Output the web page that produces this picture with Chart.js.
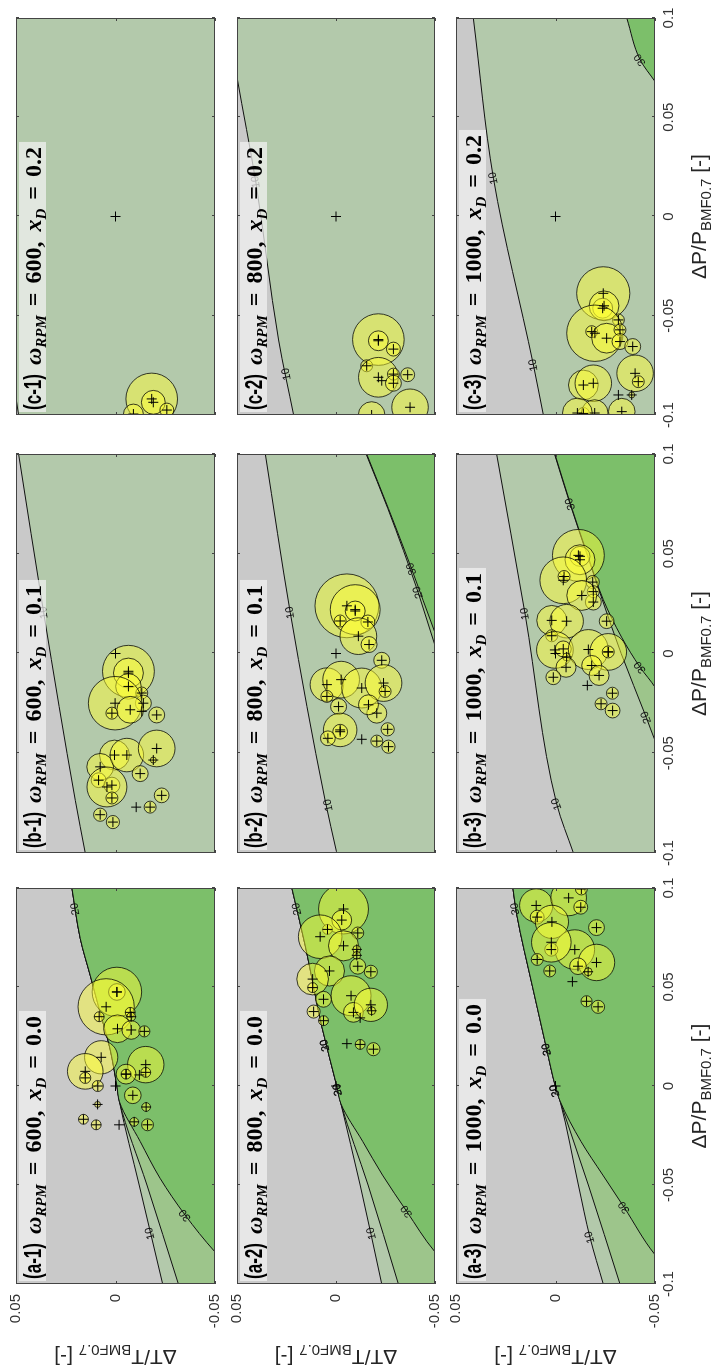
<!DOCTYPE html>
<html>
<head>
<meta charset="utf-8">
<script src="https://cdn.jsdelivr.net/npm/chart.js@4.4.1/dist/chart.umd.min.js"></script>
<style>
  html, body { margin: 0; padding: 0; background: #fff; width: 716px; height: 1370px; overflow: hidden; }
  /* the 3x3 grid is laid out landscape and turned a quarter turn counter-clockwise */
  #fig { position: absolute; left: 0; top: 0; width: 1370px; height: 716px;
         transform-origin: 0 0; transform: translate(0, 1370px) rotate(-90deg); background: #fff; }
  #fig canvas { position: absolute; }
</style>
</head>
<body>
<div id="fig"></div>
<script>
// ---------- axes ----------
const dpTicks = [-0.1, -0.05, 0, 0.05, 0.1];
const dpTickLabels = ['-0.1', '-0.05', '0', '0.05', '0.1'];
const dtTicks = [-0.05, 0, 0.05];
const dtTickLabels = ['-0.05', '0', '0.05'];
const rpmRows = [600, 800, 1000];
const xdCols = ['0.0', '0.1', '0.2'];
const baseline = [0, 0];

// ---------- operating points: [dP/P, dT/T, spread radius] ----------
const a1Pts = [
  [0.0475,-0.0007,0.0125],[0.0475,-0.0007,0.0042],[0.040,0.0047,0.0142],[0.035,0.0082,0.0025],
  [0.0372,-0.0074,0.0025],[0.035,-0.0079,0.0022],[0.0289,-0.001,0.007],[0.0283,-0.0079,0.0047],
  [0.0276,-0.0145,0.0028],[0.0145,0.0072,0.0084],[0.0074,0.0152,0.009],[0.0041,0.0152,0.0028],
  [0.0,0.0089,0.0028],[0.0108,-0.0152,0.0092],[0.006,-0.0053,0.005],[0.006,-0.0053,0.0025],
  [0.0069,-0.0152,0.0025],[0.0056,-0.012,0],[-0.0047,-0.0087,0.0042],[-0.0093,0.009,0.0015],
  [-0.0106,-0.0154,0.0022],[-0.0168,0.0161,0.0025],[-0.0196,0.0097,0.0025],[-0.0196,-0.0018,0],
  [-0.0181,-0.0094,0.0022],[-0.0196,-0.0161,0.003]
];
const a2Pts = [
  [0.0894,-0.0038,0.0126],[0.0838,-0.0029,0.005],[0.0791,0.0043,0.0025],[0.0773,-0.011,0.003],
  [0.0754,0.008,0.011],[0.0708,-0.0038,0.0076],[0.069,-0.0105,0.002],[0.066,-0.0105,0.002],
  [0.0605,-0.011,0.004],[0.0577,-0.0176,0.0033],[0.0581,0.0033,0.0076],[0.054,0.0118,0.008],
  [0.0497,0.0118,0.0025],[0.0438,0.0063,0.004],[0.0456,-0.0076,0.0101],[0.0376,0.0113,0.0033],
  [0.033,0.0063,0.0025],[0.0372,-0.0088,0.005],[0.041,-0.0176,0.0084],[0.038,-0.018,0.002],
  [0.0344,-0.0122,0],[0.0214,-0.0055,0],[0.021,-0.0122,0.0025],[0.0186,-0.0189,0.0033]
];
const a3Pts = [
  [0.0912,0.0097,0.0084],[0.095,-0.0066,0.009],[0.0995,-0.013,0.003],[0.0903,-0.0127,0.0035],
  [0.0853,0.0092,0.0035],[0.0829,0.0018,0.0084],[0.08,-0.0206,0.004],[0.0689,-0.0097,0.01],
  [0.0689,0.0021,0.0033],[0.0726,0.0021,0.01],[0.0639,0.0092,0.003],[0.0581,0.0029,0.003],
  [0.0624,-0.0206,0.0092],[0.0605,-0.0113,0.0042],[0.0577,-0.0164,0.002],[0.0527,-0.0085,0],
  [0.0428,-0.0156,0.0028],[0.04,-0.0214,0.0033]
];
const b1Pts = [
  [-0.0089,-0.0065,0.013],[-0.0098,-0.0065,0.0075],[-0.0165,-0.0065,0.0064],[-0.0198,-0.0132,0.003],
  [-0.0249,-0.014,0.004],[-0.0249,0.0002,0.0134],[-0.0299,0.0018,0.003],[-0.0282,-0.0074,0.0067],
  [-0.029,-0.0132,0],[-0.0308,-0.0207,0.004],[-0.0509,0.0005,0.0075],[-0.0568,0.0077,0.0067],
  [-0.0509,-0.0057,0.0084],[-0.0476,-0.0207,0.0092],[-0.0534,-0.019,0.0015],[-0.0602,-0.0124,0.004],
  [-0.0635,0.0085,0.0037],[-0.066,0.0018,0.004],[-0.0669,0.0043,0.01],[-0.0711,-0.0232,0.0037],
  [-0.0724,0.0018,0.003],[-0.0808,0.0077,0.0033],[-0.0845,0.0013,0.0033],[-0.077,-0.0104,0],
  [-0.077,-0.0174,0.003]
];
const b2Pts = [
  [0.0239,-0.0055,0.016],[0.022,-0.0097,0.0125],[0.0213,-0.0097,0.005],[0.0163,-0.0021,0.003],
  [0.0158,-0.0161,0.0035],[0.0087,-0.0113,0.0092],[0.0045,-0.0167,0.004],[-0.0034,-0.0231,0.004],
  [-0.0156,0.0046,0.0084],[-0.0131,-0.0026,0.0092],[-0.0215,0.0046,0.003],[-0.0173,-0.013,0.01],
  [-0.0148,-0.024,0.0092],[-0.019,-0.0248,0.003],[-0.0266,-0.0013,0.004],[-0.0299,-0.0206,0.005],
  [-0.0257,-0.0164,0.005],[-0.0383,-0.0021,0.0084],[-0.0392,-0.0021,0.0037],[-0.0425,0.0041,0.0037],
  [-0.043,-0.013,0],[-0.0439,-0.0206,0.003],[-0.038,-0.0261,0.0033],[-0.0467,-0.0265,0.0033]
];
const b3Pts = [
  [0.0492,-0.0115,0.013],[0.0487,-0.0123,0.005],[0.047,-0.0123,0.0075],[0.0367,-0.0039,0.0117],
  [0.0386,-0.0043,0.003],[0.0358,-0.0187,0.0033],[0.031,-0.019,0.003],[0.0258,-0.019,0.004],
  [0.0291,-0.0132,0.0075],[0.0162,-0.0257,0.0037],[0.0166,0.0019,0.0075],[0.0162,-0.0056,0.0084],
  [0.0089,0.0019,0.003],[0.0018,0.0003,0.0092],[0.0023,-0.0039,0.004],[-0.0017,-0.0056,0.002],
  [0.002,-0.0165,0.01],[0.0008,-0.0265,0.0092],[0.0008,-0.0265,0.003],[-0.0069,-0.0053,0.005],
  [-0.0119,0.0011,0.0037],[-0.006,-0.0182,0.005],[-0.011,-0.0219,0.005],[-0.016,-0.016,0],
  [-0.0199,-0.0286,0.003],[-0.0252,-0.0229,0.003],[-0.0286,-0.0287,0.0037]
];
const c1Pts = [
  [-0.0919,-0.0182,0.013],[-0.0936,-0.019,0.006],[-0.0975,-0.0258,0.0035],[-0.0995,-0.009,0.005]
];
const c2Pts = [
  [-0.062,-0.0214,0.013],[-0.0626,-0.0214,0.005],[-0.0668,-0.029,0.0035],[-0.0752,-0.0155,0.003],
  [-0.081,-0.0214,0.01],[-0.0827,-0.0231,0],[-0.0794,-0.029,0.003],[-0.084,-0.029,0.004],
  [-0.0797,-0.0362,0.0035],[-0.0961,-0.0374,0.0092],[-0.1,-0.018,0.0067]
];
const c3Pts = [
  [-0.0387,-0.024,0.0134],[-0.0462,-0.0237,0.005],[-0.045,-0.0244,0.0075],[-0.0521,-0.0316,0.003],
  [-0.0588,-0.0198,0.0142],[-0.058,-0.0182,0.003],[-0.0613,-0.0257,0.0075],[-0.0571,-0.0324,0.003],
  [-0.063,-0.0324,0.004],[-0.0655,-0.0388,0.004],[-0.079,-0.04,0.0092],[-0.0832,-0.0416,0.003],
  [-0.0849,-0.014,0.0075],[-0.084,-0.019,0.0092],[-0.0899,-0.0316,0],[-0.0899,-0.0383,0.0015],
  [-0.0992,-0.014,0.003],[-0.099,-0.0197,0.0067],[-0.0983,-0.0333,0.0067],[-0.099,-0.011,0.0075]
];

// ---------- iso-lines of the background map: [dP/P, dT/T] ----------
const a1C10 = [[-0.1,-0.0237],[-0.05,-0.0119],[-0.008,-0.002],[0,-0.0007],[0.0186,0.0027],[0.0372,0.0077],[0.0559,0.0127],[0.0745,0.0177],[0.1,0.0219]];
const a1C20 = [[-0.1,-0.0316],[-0.05,-0.0158],[-0.008,-0.002],[0,-0.0007],[0.0186,0.0027],[0.0372,0.0077],[0.0559,0.0127],[0.0745,0.0177],[0.1,0.0219]];
const a1C30 = [[-0.1,-0.066],[-0.0838,-0.05],[-0.0652,-0.035],[-0.0466,-0.0224],[-0.028,-0.0124],[-0.008,-0.002],[0,-0.0007],[0.0186,0.0027],[0.0372,0.0077],[0.0559,0.0127],[0.0745,0.0177],[0.1,0.0219]];
const a2C10 = [[-0.1,-0.0231],[-0.05,-0.0122],[-0.009,-0.0025],[0,-0.0004],[0.0298,0.0071],[0.0708,0.0155],[0.1,0.0223]];
const a2C20 = [[-0.1,-0.0315],[-0.05,-0.0162],[-0.009,-0.0025],[0,-0.0004],[0.0298,0.0071],[0.0708,0.0155],[0.1,0.0223]];
const a2C30 = [[-0.1,-0.066],[-0.0838,-0.05],[-0.0633,-0.0357],[-0.045,-0.0235],[-0.028,-0.0135],[-0.009,-0.0025],[0,-0.0004],[0.0298,0.0071],[0.0708,0.0155],[0.1,0.0223]];
const a3C10 = [[-0.1,-0.024],[-0.0764,-0.0173],[-0.05,-0.0115],[-0.0076,-0.0023],[0,0.0001],[0.0185,0.0044],[0.05,0.0115],[0.0868,0.0195],[0.1,0.0214]];
const a3C20 = [[-0.1,-0.0324],[-0.05,-0.0165],[-0.0076,-0.0023],[0,0.0001],[0.0185,0.0044],[0.05,0.0115],[0.0868,0.0195],[0.1,0.0214]];
const a3C30 = [[-0.1,-0.064],[-0.0852,-0.05],[-0.0613,-0.0345],[-0.045,-0.0238],[-0.028,-0.0128],[-0.0076,-0.0023],[0,0.0001],[0.0185,0.0044],[0.05,0.0115],[0.0868,0.0195],[0.1,0.0214]];
const b1C10 = [[-0.1,0.0152],[-0.0736,0.0202],[0.0205,0.0361],[0.1,0.0487]];
const b2C10 = [[-0.1,-0.0004],[-0.0736,0.0055],[0.0205,0.0231],[0.1,0.0357]];
const b2C20 = [[-0.1,-0.08],[-0.03,-0.062],[0.004,-0.05],[0.0306,-0.0415],[0.0726,-0.0262],[0.1,-0.0152]];
const b2C30 = [[-0.1,-0.09],[-0.03,-0.066],[0.0104,-0.05],[0.0424,-0.0382],[0.0726,-0.0265],[0.1,-0.0155]];
const b3C10 = [[-0.1,-0.009],[-0.0754,-0.0006],[0.0199,0.0153],[0.1,0.0296]];
const b3C20 = [[-0.1,-0.075],[-0.0436,-0.05],[-0.032,-0.0456],[0,-0.033],[0.027,-0.0235],[0.0483,-0.0163],[0.075,-0.0073],[0.1,0.0005]];
const b3C30 = [[-0.1,-0.09],[-0.0169,-0.05],[-0.0069,-0.0425],[0.0082,-0.0332],[0.027,-0.024],[0.0483,-0.0165],[0.075,-0.0075],[0.1,0.0003]];
const c1C10 = [[-0.1,0.0487],[-0.0914,0.05],[-0.07,0.054],[0.1,0.08]];
const c2C10 = [[-0.1,0.0214],[-0.0622,0.029],[0.0174,0.0405],[0.0702,0.05],[0.1,0.055]];
const c3C10 = [[-0.1,0.0061],[-0.0748,0.0111],[0.0193,0.0312],[0.1,0.0413]];
const c3C30 = [[0.05,-0.062],[0.068,-0.05],[0.079,-0.0425],[0.1,-0.0358]];

// ---------- iso-line labels: [text, dP/P, dT/T] ----------
const a1Lab = [['20',0.0894,0.0202],['10',-0.0745,-0.0174],['30',-0.0652,-0.035]];
const a2Lab = [['20',0.0894,0.0197],['20',0.0205,0.0055],['30',0.0205,0.0055],['20',-0.0019,-0.0009],['30',-0.0019,-0.0009],['10',-0.0745,-0.018],['30',-0.0633,-0.0357]];
const a3Lab = [['30',0.0894,0.0202],['20',0.0185,0.0044],['30',0.0185,0.0044],['20',-0.0024,0.0003],['30',-0.0024,0.0003],['10',-0.0764,-0.0173],['30',-0.0613,-0.0345]];
const b1Lab = [['10',0.0205,0.0361]];
const b2Lab = [['10',0.0205,0.0231],['10',-0.076,0.0038],['30',0.0424,-0.0382],['20',0.0306,-0.0415]];
const b3Lab = [['10',0.0199,0.0153],['10',-0.0754,-0.0006],['30',0.075,-0.0075],['30',-0.0069,-0.0425],['20',-0.032,-0.0456]];
const c1Lab = [];
const c2Lab = [['10',0.0174,0.0405],['10',-0.0794,0.025]];
const c3Lab = [['10',0.0193,0.0312],['10',-0.0748,0.0111],['30',0.079,-0.0425]];

// ---------- page layout (landscape frame, px) ----------
const FIG_W = 1370, FIG_H = 716;
const colL = [86, 517, 955], colR = [482, 916, 1352];
const rowT = [16, 237, 456], rowB = [215, 435, 655];

const GRAY = '#c9c9c9', SAGE = '#b3c9ab', MID = '#9dc58b', BRIGHT = '#7cbf6a';
const BUBBLE_FILL = 'rgba(255,255,50,0.47)', BUBBLE_EDGE = 'rgba(0,0,0,0.75)';
const SANS = '"Liberation Sans", Arial, sans-serif';
const SERIF = '"Liberation Serif", "DejaVu Serif", serif';
const INK = '#262626';

const panels = [
  {tag:'a', col:0, row:0, pts:a1Pts, c10:a1C10, c20:a1C20, c30:a1C30, lab:a1Lab},
  {tag:'a', col:0, row:1, pts:a2Pts, c10:a2C10, c20:a2C20, c30:a2C30, lab:a2Lab},
  {tag:'a', col:0, row:2, pts:a3Pts, c10:a3C10, c20:a3C20, c30:a3C30, lab:a3Lab},
  {tag:'b', col:1, row:0, pts:b1Pts, c10:b1C10, lab:b1Lab},
  {tag:'b', col:1, row:1, pts:b2Pts, c10:b2C10, c20:b2C20, c30:b2C30, lab:b2Lab},
  {tag:'b', col:1, row:2, pts:b3Pts, c10:b3C10, c20:b3C20, c30:b3C30, lab:b3Lab},
  {tag:'c', col:2, row:0, pts:c1Pts, c10:c1C10, lab:c1Lab},
  {tag:'c', col:2, row:1, pts:c2Pts, c10:c2C10, lab:c2Lab},
  {tag:'c', col:2, row:2, pts:c3Pts, c10:c3C10, c30:c3C30, lab:c3Lab}
];

// text runs with mixed fonts and subscripts
function segsWidth(ctx, segs) {
  let w = 0;
  for (const s of segs) {
    if (s.gap) { w += s.gap; continue; }
    ctx.font = s.font;
    const m = ctx.measureText(s.t).width;
    w += s.fit ? Math.min(m, s.fit) : m;
  }
  return w;
}
function drawSegs(ctx, segs, x, y) {
  let cx = x;
  for (const s of segs) {
    if (s.gap) { cx += s.gap; continue; }
    ctx.font = s.font;
    const m = ctx.measureText(s.t).width;
    const k = s.fit ? Math.min(1, s.fit / m) : 1;
    ctx.save();
    ctx.translate(cx, y + (s.dy || 0));
    ctx.scale(k, 1);
    ctx.fillText(s.t, 0, 0);
    ctx.restore();
    cx += m * k;
  }
}
function titleSegs(tag, rpm, xd) {
  const big = `bold 24px ${SERIF}`, bigIt = `italic bold 24px ${SERIF}`, sub = `italic bold 15px ${SERIF}`;
  return [
    {t: tag, font: `bold 24px ${SANS}`, fit: 36},
    {gap: 9},
    {t: 'ω', font: bigIt}, {t: 'RPM', font: sub, dy: 5},
    {gap: 9}, {t: '=', font: big}, {gap: 9},
    {t: rpm + ',', font: big},
    {gap: 10},
    {t: 'x', font: bigIt}, {t: 'D', font: sub, dy: 5},
    {gap: 9}, {t: '=', font: big}, {gap: 9},
    {t: xd, font: big}
  ];
}
function axisSegs(main, den) {
  return [
    {t: 'Δ' + main + '/' + den, font: `21px ${SANS}`},
    {t: 'BMF0.7', font: `15px ${SANS}`, dy: 5},
    {t: ' [-]', font: `21px ${SANS}`}
  ];
}

function lineAngle(chart, line, p) {
  const sx = chart.scales.x, sy = chart.scales.y;
  let i = 0;
  while (i < line.length - 2 && line[i + 1][0] < p) i++;
  const a = line[i], b = line[i + 1];
  const dx = sx.getPixelForValue(b[0]) - sx.getPixelForValue(a[0]);
  const dy = sy.getPixelForValue(b[1]) - sy.getPixelForValue(a[1]);
  let ang = Math.atan2(dy, dx);
  if (ang > Math.PI / 2) ang -= Math.PI;
  if (ang < -Math.PI / 2) ang += Math.PI;
  return ang;
}

function isoLine(pts, color, order) {
  return {
    type: 'line',
    data: pts.map(q => ({x: q[0], y: q[1]})),
    borderColor: '#111', borderWidth: 1, pointRadius: 0,
    fill: 'start', backgroundColor: color,
    cubicInterpolationMode: 'monotone', order: order, clip: 0
  };
}

const fig = document.getElementById('fig');

panels.forEach(p => {
  const padL = p.col === 0 ? 0 : 22;
  const axisW = p.col === 0 ? colL[0] : 0;
  const padR = Math.min(22, FIG_W - colR[p.col]);
  const padT = 14;
  const axisH = p.row === 2 ? FIG_H - rowB[2] : 0;
  const padB = p.row === 2 ? 0 : 14;
  const left = colL[p.col] - padL - axisW;
  const top = rowT[p.row] - padT;
  const width = colR[p.col] + padR - left;
  const height = rowB[p.row] + axisH + padB - top;

  const canvas = document.createElement('canvas');
  canvas.width = width; canvas.height = height;
  canvas.style.left = left + 'px'; canvas.style.top = top + 'px';
  fig.appendChild(canvas);

  const spread = p.pts.filter(q => q[2] > 0);
  const datasets = [];
  if (p.c10) datasets.push(isoLine(p.c10, SAGE, 12));
  if (p.c20) datasets.push(isoLine(p.c20, MID, 11));
  if (p.c30) datasets.push(isoLine(p.c30, BRIGHT, 10));
  // spread circles: radius given in dP/P units, converted through the x scale
  datasets.push({
    type: 'scatter',
    data: spread.map(q => ({x: q[0], y: q[1]})),
    pointStyle: 'circle',
    pointRadius: ctx => {
      const q = spread[ctx.dataIndex];
      if (!q) return 0;
      const sx = ctx.chart.scales.x;
      const r = Math.abs(sx.getPixelForValue(q[2]) - sx.getPixelForValue(0));
      return isFinite(r) ? r : 0;
    },
    pointBackgroundColor: BUBBLE_FILL, pointBorderColor: BUBBLE_EDGE, pointBorderWidth: 1,
    order: 1, clip: 0
  });
  datasets.push({
    type: 'scatter',
    data: p.pts.concat([baseline]).map(q => ({x: q[0], y: q[1]})),
    pointStyle: 'cross', pointRadius: 5, borderColor: '#000', backgroundColor: '#000',
    borderWidth: 1, order: 0, clip: 0
  });

  const lines = {'10': p.c10, '20': p.c20 || p.c30, '30': p.c30 || p.c20};

  const mapPlugin = {
    id: 'mapDecor',
    beforeDatasetsDraw(chart) {
      const a = chart.chartArea, ctx = chart.ctx;
      ctx.save(); ctx.fillStyle = GRAY;
      ctx.fillRect(a.left, a.top, a.right - a.left, a.bottom - a.top);
      ctx.restore();
    },
    beforeDatasetDraw(chart, args) {
      if (args.index !== datasets.length - 2) return;
      const ctx = chart.ctx, sx = chart.scales.x, sy = chart.scales.y, a = chart.chartArea;
      ctx.save();
      ctx.beginPath(); ctx.rect(a.left, a.top, a.right - a.left, a.bottom - a.top); ctx.clip();
      ctx.font = `11px ${SANS}`; ctx.fillStyle = '#111';
      ctx.textAlign = 'center'; ctx.textBaseline = 'middle';
      p.lab.forEach(([t, dp, dt]) => {
        const ln = lines[t];
        const ang = ln ? lineAngle(chart, ln, dp) : 0;
        ctx.save();
        ctx.translate(sx.getPixelForValue(dp), sy.getPixelForValue(dt));
        ctx.rotate(ang);
        ctx.fillText(t, 0, 0);
        ctx.restore();
      });
      ctx.restore();
    },
    afterDatasetsDraw(chart) {
      const ctx = chart.ctx, a = chart.chartArea, sx = chart.scales.x, sy = chart.scales.y;
      ctx.save();
      // frame and inward ticks on all four sides
      ctx.strokeStyle = '#444'; ctx.lineWidth = 1;
      ctx.strokeRect(a.left + 0.5, a.top + 0.5, a.right - a.left - 1, a.bottom - a.top - 1);
      ctx.beginPath();
      dpTicks.forEach(v => {
        const x = Math.round(sx.getPixelForValue(v)) + 0.5;
        ctx.moveTo(x, a.bottom); ctx.lineTo(x, a.bottom - 3);
        ctx.moveTo(x, a.top); ctx.lineTo(x, a.top + 3);
      });
      dtTicks.forEach(v => {
        const y = Math.round(sy.getPixelForValue(v)) + 0.5;
        ctx.moveTo(a.left, y); ctx.lineTo(a.left + 3, y);
        ctx.moveTo(a.right, y); ctx.lineTo(a.right - 3, y);
      });
      ctx.stroke();
      // panel caption
      const segs = titleSegs(`(${p.tag}-${p.row + 1})`, rpmRows[p.row], xdCols[p.col]);
      const w = segsWidth(ctx, segs);
      ctx.fillStyle = 'rgba(242,242,242,0.72)';
      ctx.fillRect(a.left + 3, a.top + 3, w + 7, 27);
      ctx.fillStyle = '#000'; ctx.textBaseline = 'alphabetic'; ctx.textAlign = 'left';
      drawSegs(ctx, segs, a.left + 5, a.top + 25);
      ctx.restore();
    },
    afterDraw(chart) {
      const ctx = chart.ctx, a = chart.chartArea, sx = chart.scales.x;
      ctx.save();
      ctx.fillStyle = INK; ctx.textBaseline = 'alphabetic'; ctx.textAlign = 'left';
      if (p.row === 2) {
        const segs = axisSegs('P', 'P');
        const w = segsWidth(ctx, segs);
        drawSegs(ctx, segs, sx.getPixelForValue(0) - w / 2, a.bottom + 51);
      }
      if (p.col === 0) {
        const segs = axisSegs('T', 'T');
        const w = segsWidth(ctx, segs);
        ctx.translate(20, (a.top + a.bottom) / 2);
        ctx.rotate(-Math.PI / 2);
        drawSegs(ctx, segs, -w / 2, 0);
      }
      ctx.restore();
    }
  };

  new Chart(canvas, {
    type: 'scatter',
    data: {datasets},
    options: {
      responsive: false, animation: false, devicePixelRatio: 1, events: [],
      layout: {autoPadding: false, padding: {left: padL, right: padR, top: padT, bottom: padB}},
      plugins: {legend: {display: false}, tooltip: {enabled: false}},
      scales: {
        x: {
          type: 'linear', position: 'bottom', min: -0.1, max: 0.1, display: p.row === 2,
          grid: {display: false, drawTicks: false}, border: {display: false},
          ticks: {padding: 5, maxRotation: 0, autoSkip: false, color: '#333',
                  font: {family: SANS, size: 15}, callback: (v, i) => dpTickLabels[i]},
          afterBuildTicks: s => { s.ticks = dpTicks.map(v => ({value: v})); },
          afterFit: s => { s.height = axisH; s.paddingLeft = 0; s.paddingRight = 0; }
        },
        y: {
          type: 'linear', position: 'left', min: -0.05, max: 0.05, display: p.col === 0,
          grid: {display: false, drawTicks: false}, border: {display: false},
          ticks: {padding: 10, color: '#333', font: {family: SANS, size: 15},
                  callback: (v, i) => dtTickLabels[i]},
          afterBuildTicks: s => { s.ticks = dtTicks.map(v => ({value: v})); },
          afterFit: s => { s.width = axisW; s.paddingTop = 0; s.paddingBottom = 0; }
        }
      }
    },
    plugins: [mapPlugin]
  });
});
</script>
</body>
</html>
